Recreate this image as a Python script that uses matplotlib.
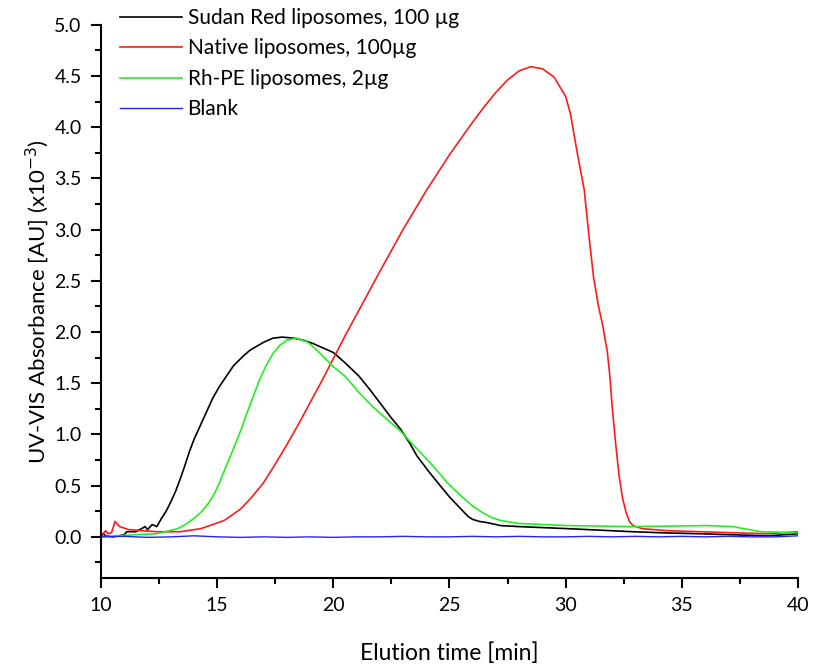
import numpy as np
import matplotlib.pyplot as plt
from matplotlib.ticker import MultipleLocator

plt.rcParams['font.family'] = ['Lato', 'DejaVu Sans']

# DATA ############################################################

sudan_t = [10.0, 10.1, 10.2, 10.5, 11.0, 11.1, 11.5, 11.9, 12.0, 12.2, 12.4,
           12.6, 12.8, 13.0, 13.2, 13.4, 13.6, 13.8, 14.0, 14.3, 14.6, 14.8,
           15.1, 15.4, 15.7, 16.1, 16.4, 16.7, 17.0, 17.4, 17.8, 18.3, 18.7,
           19.1, 19.5, 20.0, 20.5, 21.1, 21.6, 22.1, 22.5, 22.9, 23.3, 23.6,
           24.1, 24.6, 25.0, 25.5, 25.8, 26.0, 26.3, 26.6, 27.2, 28.0, 30.1,
           32.9, 34.1, 35.8, 38.7, 40.0]
sudan_abs = [0.0, 0.03, 0.01, 0.0, 0.02, 0.05, 0.05, 0.1, 0.07, 0.12, 0.1,
             0.18, 0.25, 0.34, 0.44, 0.56, 0.69, 0.83, 0.95, 1.10, 1.25, 1.35,
             1.47, 1.57, 1.67, 1.76, 1.82, 1.86, 1.90, 1.94, 1.95, 1.94, 1.92,
             1.89, 1.85, 1.80, 1.70, 1.57, 1.43, 1.28, 1.16, 1.05, 0.91, 0.79,
             0.64, 0.50, 0.39, 0.27, 0.20, 0.17, 0.15, 0.14, 0.11, 0.10, 0.08,
             0.05, 0.04, 0.03, 0.01, 0.03]

native_t = [10.0, 10.2, 10.3, 10.45, 10.6, 10.8, 11.2, 12.4, 13.4, 14.3, 15.3,
            16.0, 16.5, 17.0, 17.5, 18.0, 18.5, 19.0, 19.5, 20.0, 20.5, 21.0,
            22.0, 23.0, 24.0, 25.0, 26.0, 26.5, 27.0, 27.5, 28.0, 28.5, 29.0,
            29.5, 30.0, 30.2, 30.5, 30.8, 31.0, 31.2, 31.4, 31.6, 31.8, 31.9,
            32.0, 32.15, 32.3, 32.45, 32.6, 32.75, 32.9, 33.3, 34.4, 37.2,
            38.7, 40.0]
native_abs = [0.01, 0.06, 0.03, 0.04, 0.15, 0.10, 0.07, 0.05, 0.05, 0.08, 0.16,
              0.27, 0.39, 0.53, 0.71, 0.90, 1.10, 1.31, 1.52, 1.74, 1.96, 2.17,
              2.59, 3.00, 3.38, 3.73, 4.05, 4.20, 4.34, 4.46, 4.55, 4.59, 4.57,
              4.49, 4.30, 4.14, 3.75, 3.39, 2.95, 2.54, 2.27, 2.06, 1.80, 1.58,
              1.28, 0.92, 0.60, 0.38, 0.24, 0.15, 0.11, 0.08, 0.06, 0.04,
              0.03, 0.05]

rhpe_t = [10.0, 11.4, 12.4, 13.3, 13.7, 14.0, 14.3, 14.6, 14.9, 15.1, 15.4,
          15.7, 16.0, 16.3, 16.6, 16.8, 17.1, 17.4, 17.7, 18.0, 18.4, 18.9,
          19.3, 19.7, 20.0, 20.5, 21.1, 21.7, 22.3, 22.9, 23.6, 24.3, 24.9,
          25.5, 26.0, 26.4, 26.8, 27.2, 28.0, 30.1, 32.9, 36.1, 37.2, 38.4,
          40.0]
rhpe_abs = [0.0, 0.02, 0.03, 0.08, 0.13, 0.18, 0.24, 0.32, 0.43, 0.53, 0.70,
            0.86, 1.03, 1.22, 1.40, 1.52, 1.67, 1.79, 1.87, 1.92, 1.94, 1.90,
            1.82, 1.73, 1.66, 1.57, 1.41, 1.27, 1.15, 1.03, 0.86, 0.69, 0.53,
            0.40, 0.30, 0.24, 0.19, 0.16, 0.13, 0.11, 0.10, 0.11, 0.10, 0.05,
            0.04]

blank_t = [10, 11, 12, 13, 14, 15, 16, 17, 18, 19, 20, 21, 22, 23, 24, 25,
           26, 27, 28, 29, 30, 31, 32, 33, 34, 35, 36, 37, 38, 39, 40]
blank_abs = [0.0, 0.005, -0.005, 0.0, 0.01, 0.0, -0.005, 0.0, -0.005, 0.0,
             -0.005, 0.0, 0.0, 0.005, 0.0, 0.0, 0.005, 0.0, 0.005, 0.0, 0.0,
             0.005, 0.0, 0.005, 0.0, 0.005, 0.0, 0.005, 0.0, 0.0, 0.01]

# PLOT ############################################################

fig = plt.figure(figsize=(8.15, 6.68), dpi=100)
ax = fig.add_axes([0.124, 0.135, 0.855, 0.828])

ax.plot(sudan_t, sudan_abs, color="black", linewidth=1.2,
        label="Sudan Red liposomes, 100 µg")
ax.plot(native_t, native_abs, color="#ff1a1a", linewidth=1.2,
        label="Native liposomes, 100µg")
ax.plot(rhpe_t, rhpe_abs, color="#22ee22", linewidth=1.2,
        label="Rh-PE liposomes, 2µg")
ax.plot(blank_t, blank_abs, color="#2222ff", linewidth=1.0,
        label="Blank")

ax.set_xlim(10, 40)
ax.set_ylim(-0.4, 5.0)
ax.xaxis.set_major_locator(MultipleLocator(5))
ax.xaxis.set_minor_locator(MultipleLocator(2.5))
ax.yaxis.set_major_locator(MultipleLocator(0.5))
ax.yaxis.set_minor_locator(MultipleLocator(0.25))
ax.yaxis.set_major_formatter(plt.FormatStrFormatter("%.1f"))

ax.spines["top"].set_visible(False)
ax.spines["right"].set_visible(False)
ax.spines["left"].set_linewidth(1.5)
ax.spines["bottom"].set_linewidth(1.5)
ax.tick_params(which="major", direction="out", length=7, width=1.5,
               labelsize=14, pad=7)
ax.tick_params(which="minor", direction="out", length=4, width=1.5)

ax.set_xlabel("Elution time [min]", fontsize=16.5, labelpad=20)
ax.set_ylabel(r"UV-VIS Absorbance [AU] (x10$^{-3}$)", fontsize=16,
              labelpad=2)

ax.legend(loc="upper left", bbox_to_anchor=(0.147, 0.988),
          bbox_transform=fig.transFigure, frameon=False, fontsize=15,
          handlelength=3.0, handletextpad=0.25, labelspacing=0.5,
          borderpad=0.0, borderaxespad=0.0)

fig.savefig("out.png", dpi=100)
